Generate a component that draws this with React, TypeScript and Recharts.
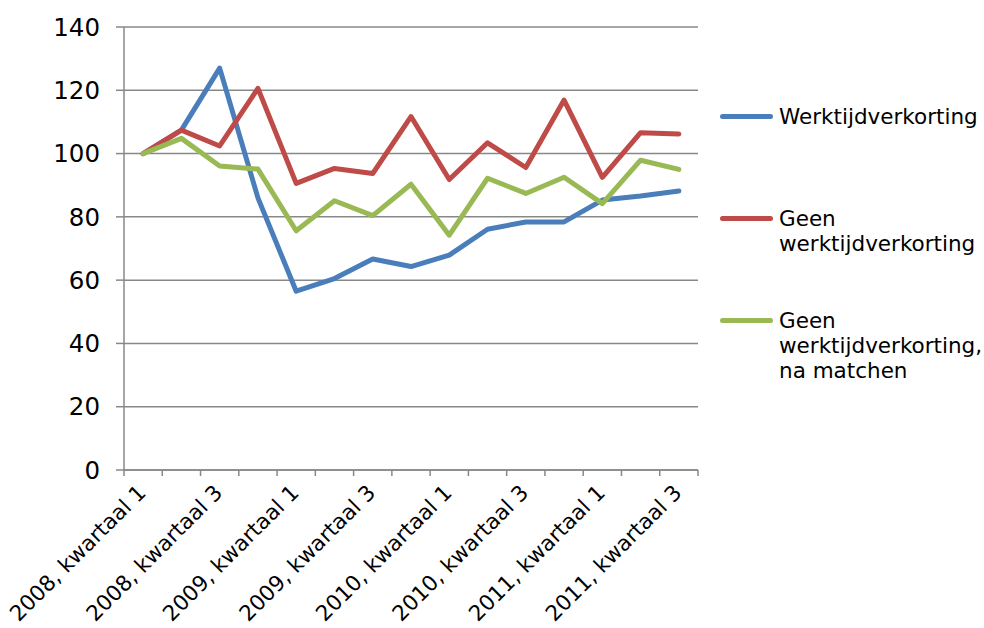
import React from "react";
import { CartesianGrid, Line, LineChart, XAxis, YAxis } from "recharts";

const quarters = [
  "2008, kwartaal 1",
  "2008, kwartaal 2",
  "2008, kwartaal 3",
  "2008, kwartaal 4",
  "2009, kwartaal 1",
  "2009, kwartaal 2",
  "2009, kwartaal 3",
  "2009, kwartaal 4",
  "2010, kwartaal 1",
  "2010, kwartaal 2",
  "2010, kwartaal 3",
  "2010, kwartaal 4",
  "2011, kwartaal 1",
  "2011, kwartaal 2",
  "2011, kwartaal 3",
];

const werktijdverkorting = [100, 107.4, 127, 86, 56.5, 60.5, 66.7, 64.3, 67.9, 76.1, 78.4, 78.4, 85.3, 86.6, 88.2];
const geenWtv = [100, 107.4, 102.4, 120.6, 90.6, 95.3, 93.7, 111.7, 91.8, 103.4, 95.6, 116.9, 92.5, 106.6, 106.2];
const geenWtvMatched = [100, 104.8, 96.1, 95.1, 75.6, 85.1, 80.4, 90.3, 74.2, 92.2, 87.4, 92.5, 84.2, 97.9, 95.0];

const yTicks = [0, 20, 40, 60, 80, 100, 120, 140];

const series = [
  { key: "wtv", name: "Werktijdverkorting", color: "#4a7ebb" },
  { key: "geen", name: "Geen werktijdverkorting", color: "#be4b48" },
  { key: "match", name: "Geen werktijdverkorting, na matchen", color: "#98b954" },
];

const data = quarters.map((q, i) => ({
  quarter: q,
  wtv: werktijdverkorting[i],
  geen: geenWtv[i],
  match: geenWtvMatched[i],
}));

const FONT = "'DejaVu Sans', Verdana, sans-serif";
const AXIS = "#888888";
const PLOT_LEFT = 124;
const PLOT_RIGHT = 698;
const BAND = (PLOT_RIGHT - PLOT_LEFT) / quarters.length;

function QuarterTick(props: any) {
  const { x, y, payload, index } = props;
  const last = index === quarters.length - 1;
  const lx = x + 4;
  const ly = y + 24;
  return (
    <g>
      <line x1={x - BAND / 2} y1={y} x2={x - BAND / 2} y2={y + 6} stroke={AXIS} strokeWidth={1.5} />
      {last && <line x1={x + BAND / 2} y1={y} x2={x + BAND / 2} y2={y + 6} stroke={AXIS} strokeWidth={1.5} />}
      {index % 2 === 0 && (
        <text
          x={lx}
          y={ly}
          transform={`rotate(-45, ${lx}, ${ly})`}
          textAnchor="end"
          fontFamily={FONT}
          fontSize={21.5}
          fill="#000"
        >
          {payload.value}
        </text>
      )}
    </g>
  );
}

function SideLegend() {
  return (
    <div
      style={{
        position: "absolute",
        left: 720,
        top: 104,
        width: 264,
        fontFamily: FONT,
        fontSize: 21.5,
        lineHeight: "25px",
        color: "#000",
      }}
    >
      {series.map((s, i) => (
        <div key={s.key} style={{ position: "absolute", left: 0, top: i * 102, display: "flex", alignItems: "flex-start" }}>
          <div style={{ width: 53, height: 5, borderRadius: 3, background: s.color, marginTop: 10, marginRight: 6, flex: "none" }} />
          <div style={{ width: 205 }}>{s.name}</div>
        </div>
      ))}
    </div>
  );
}

export default function App() {
  return (
    <div style={{ position: "absolute", left: 0, top: 0, width: 984, height: 628, background: "#fff" }}>
      <LineChart width={984} height={628} data={data} margin={{ top: 27, right: 984 - PLOT_RIGHT, left: 0, bottom: 8 }}>
        <CartesianGrid vertical={false} stroke={AXIS} strokeWidth={1.5} />
        <XAxis
          dataKey="quarter"
          height={150}
          interval={0}
          tickSize={0}
          tickMargin={0}
          tickLine={false}
          padding={{ left: BAND / 2, right: BAND / 2 }}
          axisLine={{ stroke: AXIS, strokeWidth: 1.5 }}
          tick={(p: any) => <QuarterTick {...p} />}
        />
        <YAxis
          width={PLOT_LEFT}
          domain={[0, 140]}
          ticks={yTicks}
          interval={0}
          tickSize={8}
          tickMargin={16}
          axisLine={{ stroke: AXIS, strokeWidth: 1.5 }}
          tickLine={{ stroke: AXIS, strokeWidth: 1.5 }}
          tick={{ fontFamily: FONT, fontSize: 24.5, fill: "#000" }}
        />
        {series.map((s) => (
          <Line
            key={s.key}
            type="linear"
            dataKey={s.key}
            name={s.name}
            stroke={s.color}
            strokeWidth={5}
            strokeLinejoin="round"
            strokeLinecap="round"
            dot={false}
            activeDot={false}
            isAnimationActive={false}
          />
        ))}
      </LineChart>
      <SideLegend />
    </div>
  );
}
